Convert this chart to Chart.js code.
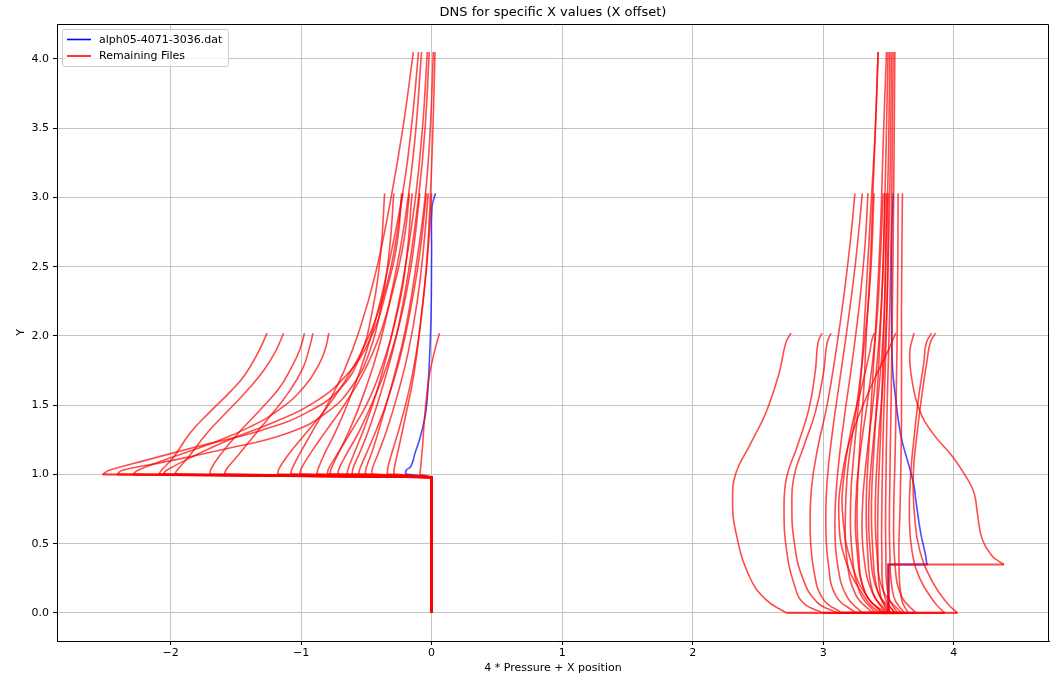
<!DOCTYPE html>
<html>
<head>
<meta charset="utf-8">
<script src="https://cdn.jsdelivr.net/npm/chart.js@4.4.0/dist/chart.umd.min.js"></script>
<style>
html, body { margin: 0; padding: 0; background: #fff; }
</style>
</head>
<body>
<canvas id="dns_chart" width="1056" height="677"></canvas>
<script>
// texts
const plotTitle = 'DNS for specific X values (X offset)';
const xTitle = '4 * Pressure + X position';
const yTitle = 'Y';
const legendLabels = ['alph05-4071-3036.dat', 'Remaining Files'];

// axes
const xTicks = [-2, -1, 0, 1, 2, 3, 4];
const yTicks = [0.0, 0.5, 1.0, 1.5, 2.0, 2.5, 3.0, 3.5, 4.0];
const xRange = [-2.87, 4.73];
const yRange = [-0.2025, 4.2525];

// left station (X offset 0): wall points, then profiles [x, y] from y = 1
const leftWall = [[0.0, 0.0], [0.0, 0.98]];

const leftShort = [
    [[-2.09,1.0],[-2.07,1.03],[-1.98,1.12],[-1.85,1.30],[-1.70,1.45],[-1.54,1.60],[-1.43,1.72],[-1.33,1.88],[-1.26,2.02]],
    [[-1.97,1.0],[-1.95,1.03],[-1.86,1.13],[-1.72,1.30],[-1.56,1.46],[-1.40,1.62],[-1.28,1.76],[-1.19,1.90],[-1.135,2.02]],
    [[-1.70,1.0],[-1.69,1.04],[-1.62,1.14],[-1.48,1.30],[-1.32,1.46],[-1.17,1.62],[-1.07,1.78],[-1.01,1.90],[-0.974,2.02]],
    [[-1.59,1.0],[-1.57,1.04],[-1.49,1.13],[-1.36,1.28],[-1.22,1.44],[-1.09,1.60],[-0.99,1.76],[-0.94,1.90],[-0.909,2.02]],
    [[-2.29,1.0],[-2.25,1.03],[-2.00,1.12],[-1.70,1.22],[-1.40,1.34],[-1.15,1.48],[-0.97,1.64],[-0.86,1.80],[-0.81,1.92],[-0.788,2.02]],
    [[-0.09,1.0],[-0.085,1.04],[-0.07,1.20],[-0.05,1.45],[-0.02,1.70],[0.02,1.88],[0.06,2.02]]
];

const leftMedium = [
    [[-2.52,1.0],[-2.47,1.03],[-2.20,1.10],[-1.80,1.20],[-1.30,1.32],[-0.95,1.45],[-0.70,1.62],[-0.55,1.85],[-0.45,2.20],[-0.39,2.60],[-0.36,3.03]],
    [[-2.41,1.0],[-2.37,1.03],[-2.10,1.08],[-1.60,1.18],[-1.10,1.30],[-0.80,1.45],[-0.60,1.65],[-0.47,1.90],[-0.38,2.25],[-0.32,2.65],[-0.29,3.03]],
    [[-2.06,1.0],[-2.03,1.03],[-1.85,1.12],[-1.55,1.25],[-1.20,1.38],[-0.90,1.52],[-0.65,1.72],[-0.47,1.98],[-0.34,2.35],[-0.26,2.70],[-0.23,3.03]],
    [[-1.18,1.0],[-1.17,1.04],[-1.10,1.14],[-0.98,1.28],[-0.83,1.45],[-0.68,1.65],[-0.53,1.90],[-0.40,2.20],[-0.30,2.55],[-0.22,3.03]],
    [[-1.01,1.0],[-1.00,1.04],[-0.93,1.15],[-0.82,1.30],[-0.67,1.50],[-0.53,1.72],[-0.40,2.00],[-0.29,2.35],[-0.21,2.70],[-0.17,3.03]],
    [[-0.80,1.0],[-0.79,1.04],[-0.72,1.15],[-0.61,1.32],[-0.49,1.52],[-0.38,1.78],[-0.28,2.10],[-0.20,2.50],[-0.15,3.03]],
    [[-0.72,1.0],[-0.71,1.04],[-0.65,1.15],[-0.55,1.32],[-0.44,1.55],[-0.33,1.82],[-0.23,2.15],[-0.15,2.55],[-0.09,3.03]],
    [[-0.56,1.0],[-0.55,1.04],[-0.50,1.15],[-0.42,1.33],[-0.33,1.56],[-0.24,1.85],[-0.16,2.20],[-0.09,2.60],[-0.04,3.03]],
    [[-0.46,1.0],[-0.455,1.04],[-0.41,1.15],[-0.34,1.33],[-0.26,1.58],[-0.18,1.88],[-0.11,2.25],[-0.06,2.65],[-0.026,3.03]],
    [[-0.34,1.0],[-0.335,1.05],[-0.30,1.17],[-0.24,1.36],[-0.17,1.62],[-0.11,1.92],[-0.06,2.30],[-0.02,2.70],[0.0,3.03]]
];

const leftTall = [
    [[-1.08,1.0],[-1.07,1.04],[-1.01,1.15],[-0.92,1.30],[-0.80,1.50],[-0.67,1.75],[-0.55,2.05],[-0.43,2.45],[-0.32,2.95],[-0.22,3.50],[-0.14,4.05]],
    [[-0.88,1.0],[-0.87,1.04],[-0.82,1.15],[-0.74,1.30],[-0.64,1.52],[-0.53,1.80],[-0.42,2.15],[-0.31,2.60],[-0.21,3.10],[-0.15,3.55],[-0.10,4.05]],
    [[-0.78,1.0],[-0.77,1.04],[-0.71,1.16],[-0.62,1.34],[-0.52,1.58],[-0.41,1.90],[-0.31,2.30],[-0.21,2.80],[-0.13,3.40],[-0.077,4.05]],
    [[-0.65,1.0],[-0.64,1.04],[-0.59,1.16],[-0.51,1.35],[-0.42,1.60],[-0.32,1.95],[-0.22,2.40],[-0.13,2.95],[-0.07,3.50],[-0.033,4.05]],
    [[-0.61,1.0],[-0.60,1.05],[-0.54,1.18],[-0.46,1.38],[-0.37,1.65],[-0.27,2.00],[-0.18,2.45],[-0.10,3.00],[-0.05,3.50],[-0.018,4.05]],
    [[-0.51,1.0],[-0.50,1.05],[-0.45,1.18],[-0.38,1.40],[-0.29,1.70],[-0.20,2.05],[-0.12,2.50],[-0.05,3.00],[-0.01,3.50],[0.013,4.05]],
    [[-0.29,1.0],[-0.285,1.05],[-0.25,1.20],[-0.20,1.42],[-0.14,1.70],[-0.09,2.05],[-0.04,2.50],[-0.01,3.00],[0.01,3.50],[0.026,4.05]]
];

const leftBlue = [[-0.20,1.0],[-0.195,1.03],[-0.158,1.06],[-0.125,1.16],[-0.093,1.25],[-0.054,1.40],[-0.036,1.52],[-0.02,1.76],[-0.005,2.12],[0.0,2.60],[0.003,2.93],[0.03,3.03]];

// right station (X offset 3.5): wall points, then profiles [x, y] from y = 0
const rightWall = [[3.5, 0.0]];
const rightStep = [[3.5, 0.0], [3.5, 0.35]];

const rightShort = [
    [[2.719,0.0],[2.561,0.096],[2.434,0.265],[2.332,0.578],[2.306,0.819],[2.332,1.012],[2.434,1.205],[2.561,1.446],[2.663,1.735],[2.714,1.952],[2.753,2.02]],
    [[3.00,0.0],[2.85,0.07],[2.78,0.20],[2.72,0.45],[2.70,0.75],[2.72,0.98],[2.80,1.20],[2.89,1.47],[2.94,1.75],[2.96,1.95],[2.99,2.02]],
    [[3.11,0.0],[2.95,0.08],[2.84,0.26],[2.78,0.50],[2.76,0.78],[2.78,1.00],[2.85,1.20],[2.94,1.45],[3.00,1.72],[3.03,1.95],[3.06,2.02]],
    [[3.48,0.0],[3.35,0.10],[3.22,0.35],[3.15,0.70],[3.16,1.00],[3.22,1.35],[3.30,1.65],[3.36,1.90],[3.37,1.96],[3.39,2.02]],
    [[3.43,0.0],[3.33,0.096],[3.17,0.385],[3.12,0.70],[3.148,1.01],[3.224,1.30],[3.378,1.66],[3.50,1.90],[3.556,2.02]],
    [[3.93,0.0],[3.85,0.08],[3.74,0.25],[3.68,0.45],[3.66,0.70],[3.67,1.00],[3.70,1.30],[3.73,1.55],[3.77,1.80],[3.79,1.95],[3.83,2.02]],
    [[4.03,0.0],[3.95,0.07],[3.84,0.22],[3.74,0.45],[3.70,0.70],[3.69,1.00],[3.72,1.30],[3.76,1.60],[3.80,1.85],[3.82,1.95],[3.86,2.02]]
];

// profile that starts from the step at y = 0.35
const rightStepRed = [[4.385,0.35],[4.347,0.373],[4.296,0.41],[4.219,0.53],[4.181,0.723],[4.156,0.867],[4.09,0.99],[3.99,1.13],[3.837,1.30],[3.735,1.47],[3.684,1.66],[3.663,1.88],[3.696,2.02]];

const rightMedium = [
    [[3.14,0.0],[3.00,0.10],[2.93,0.30],[2.90,0.60],[2.91,0.90],[2.96,1.20],[3.03,1.50],[3.10,1.90],[3.16,2.30],[3.21,2.70],[3.243,3.03]],
    [[3.25,0.0],[3.10,0.12],[3.04,0.35],[3.02,0.65],[3.03,0.95],[3.07,1.30],[3.13,1.70],[3.19,2.10],[3.25,2.55],[3.30,3.03]],
    [[3.30,0.0],[3.18,0.12],[3.11,0.35],[3.09,0.65],[3.11,1.00],[3.16,1.40],[3.22,1.80],[3.28,2.25],[3.32,2.65],[3.343,3.03]],
    [[3.38,0.0],[3.25,0.13],[3.18,0.40],[3.17,0.70],[3.19,1.05],[3.25,1.45],[3.31,1.90],[3.36,2.40],[3.39,3.03]],
    [[3.45,0.0],[3.32,0.15],[3.26,0.45],[3.25,0.80],[3.29,1.20],[3.35,1.60],[3.41,2.10],[3.44,2.60],[3.459,3.03]],
    [[3.50,0.0],[3.38,0.14],[3.31,0.42],[3.30,0.75],[3.33,1.10],[3.38,1.50],[3.43,2.00],[3.46,2.50],[3.472,3.03]],
    [[3.55,0.0],[3.42,0.15],[3.36,0.45],[3.35,0.80],[3.38,1.20],[3.43,1.65],[3.47,2.20],[3.485,3.03]],
    [[3.60,0.0],[3.46,0.16],[3.41,0.45],[3.40,0.80],[3.42,1.20],[3.46,1.70],[3.49,2.30],[3.498,3.03]],
    [[3.71,0.0],[3.60,0.12],[3.55,0.35],[3.54,0.70],[3.55,1.10],[3.56,1.60],[3.57,2.30],[3.574,3.03]],
    [[3.65,0.0],[3.60,0.10],[3.58,0.40],[3.59,0.80],[3.60,1.40],[3.60,2.20],[3.607,3.03]]
];

const rightTall = [
    [[3.40,0.0],[3.28,0.15],[3.22,0.45],[3.21,0.80],[3.24,1.20],[3.28,1.60],[3.31,2.00],[3.34,2.50],[3.37,3.00],[3.40,3.50],[3.421,4.05]],
    [[3.45,0.0],[3.32,0.15],[3.27,0.45],[3.26,0.80],[3.28,1.20],[3.31,1.60],[3.33,2.00],[3.36,2.50],[3.38,3.00],[3.40,3.50],[3.421,4.05]],
    [[3.48,0.0],[3.38,0.15],[3.34,0.45],[3.33,0.80],[3.35,1.20],[3.38,1.70],[3.41,2.20],[3.44,2.80],[3.46,3.40],[3.485,4.05]],
    [[3.52,0.0],[3.42,0.15],[3.38,0.45],[3.37,0.80],[3.39,1.20],[3.42,1.70],[3.45,2.30],[3.47,2.90],[3.485,3.50],[3.497,4.05]],
    [[3.50,0.0],[3.44,0.12],[3.42,0.40],[3.42,0.80],[3.44,1.30],[3.46,1.90],[3.48,2.60],[3.50,3.30],[3.51,4.05]],
    [[3.55,0.0],[3.47,0.12],[3.45,0.40],[3.45,0.80],[3.46,1.30],[3.48,1.90],[3.50,2.60],[3.515,3.30],[3.523,4.05]],
    [[3.57,0.0],[3.50,0.12],[3.48,0.45],[3.48,0.90],[3.49,1.50],[3.51,2.20],[3.525,3.00],[3.536,4.05]],
    [[3.62,0.0],[3.54,0.12],[3.51,0.45],[3.51,0.90],[3.52,1.50],[3.53,2.20],[3.54,3.00],[3.549,4.05]]
];

const rightBlue = [[3.80,0.35],[3.793,0.361],[3.786,0.41],[3.747,0.578],[3.709,0.819],[3.696,0.916],[3.658,1.06],[3.607,1.23],[3.582,1.35],[3.556,1.54],[3.531,1.78],[3.523,2.20],[3.525,2.70],[3.536,3.03]];

const red = 'rgba(255,0,0,0.7)';
const blue = 'rgba(0,0,255,0.7)';

function make_line(points, colour, tension, width){
    return {
        data: points.map(p => ({x: p[0], y: p[1]})),
        showLine: true,
        borderColor: colour,
        backgroundColor: colour,
        borderWidth: width,
        pointRadius: 0,
        pointHoverRadius: 0,
        tension: tension,
        fill: false
    };
}

// wall part is straight, the profile itself is smooth
function add_profile(list, wall, profile, colour){
    list.push(make_line(wall.concat([profile[0]]), colour, 0, 2.2));
    list.push(make_line(profile, colour, 0.45, 1.6));
}

let datasets = [];
leftShort.concat(leftMedium, leftTall).forEach(c => add_profile(datasets, leftWall, c, red));
rightShort.concat(rightMedium, rightTall).forEach(c => add_profile(datasets, rightWall, c, red));
add_profile(datasets, rightStep, rightStepRed, red);
// blue goes last so it is painted underneath the red ones
add_profile(datasets, leftWall, leftBlue, blue);
add_profile(datasets, rightStep, rightBlue, blue);

const frame_plugin = {
    id: 'frame',
    afterDraw(chart){
        const c = chart.ctx;
        const a = chart.chartArea;
        c.save();
        // top and right spines
        c.strokeStyle = '#000';
        c.lineWidth = 1;
        c.beginPath();
        c.moveTo(Math.round(a.left), Math.round(a.top) + 0.5);
        c.lineTo(Math.round(a.right) - 0.5, Math.round(a.top) + 0.5);
        c.lineTo(Math.round(a.right) - 0.5, Math.round(a.bottom));
        c.stroke();

        // title
        c.fillStyle = '#000';
        c.font = '13px "DejaVu Sans"';
        c.textAlign = 'center';
        c.textBaseline = 'middle';
        c.fillText(plotTitle, (a.left + a.right) / 2, 13);

        // legend in the upper left corner
        const bx = a.left + 5.5, by = a.top + 5.5, bw = 166, bh = 37;
        c.fillStyle = 'rgba(255,255,255,0.8)';
        c.strokeStyle = '#cccccc';
        c.beginPath();
        c.roundRect(bx, by, bw, bh, 2);
        c.fill();
        c.stroke();
        const colours = ['blue', 'red'];
        c.font = '11px "DejaVu Sans"';
        c.textAlign = 'left';
        legendLabels.forEach((label, i) => {
            const ly = by + 10 + i * 16.5;
            c.strokeStyle = colours[i];
            c.lineWidth = 1.6;
            c.beginPath();
            c.moveTo(bx + 4.5, ly);
            c.lineTo(bx + 28.5, ly);
            c.stroke();
            c.fillStyle = '#000';
            c.fillText(label, bx + 36.5, ly + 0.5);
        });
        c.restore();
    }
};

Chart.defaults.font.family = '"DejaVu Sans"';
Chart.defaults.font.size = 11;
Chart.defaults.color = '#000';

let ctx = 'dns_chart';
let chart = new Chart(ctx, {
    type: 'scatter',
    data: { datasets: datasets },
    options: {
        responsive: false,
        animation: false,
        events: [],
        layout: { padding: { top: 24, right: 7, left: 0, bottom: 0 } },
        plugins: {
            legend: { display: false },
            tooltip: { enabled: false },
            title: { display: false }
        },
        scales: {
            x: {
                type: 'linear',
                position: 'bottom',
                min: xRange[0],
                max: xRange[1],
                afterBuildTicks: s => { s.ticks = xTicks.map(v => ({value: v})); },
                afterFit: s => { s.height = 36; },
                ticks: {
                    padding: 2,
                    maxRotation: 0,
                    autoSkip: false,
                    callback: v => String(v).replace('-', '\u2212')
                },
                grid: { color: '#c4c4c4', lineWidth: 1, tickColor: '#000', tickLength: 4 },
                border: { color: '#000', width: 1 },
                title: { display: true, text: xTitle, padding: { top: 0, bottom: 2 } }
            },
            y: {
                type: 'linear',
                position: 'left',
                min: yRange[0],
                max: yRange[1],
                afterBuildTicks: s => { s.ticks = yTicks.map(v => ({value: v})); },
                afterFit: s => { s.width = 57; },
                ticks: {
                    padding: 4,
                    autoSkip: false,
                    callback: v => v.toFixed(1)
                },
                grid: { color: '#c4c4c4', lineWidth: 1, tickColor: '#000', tickLength: 4 },
                border: { color: '#000', width: 1 },
                title: { display: true, text: yTitle, padding: { top: 15, bottom: 0 } }
            }
        }
    },
    plugins: [frame_plugin]
});
</script>
</body>
</html>
